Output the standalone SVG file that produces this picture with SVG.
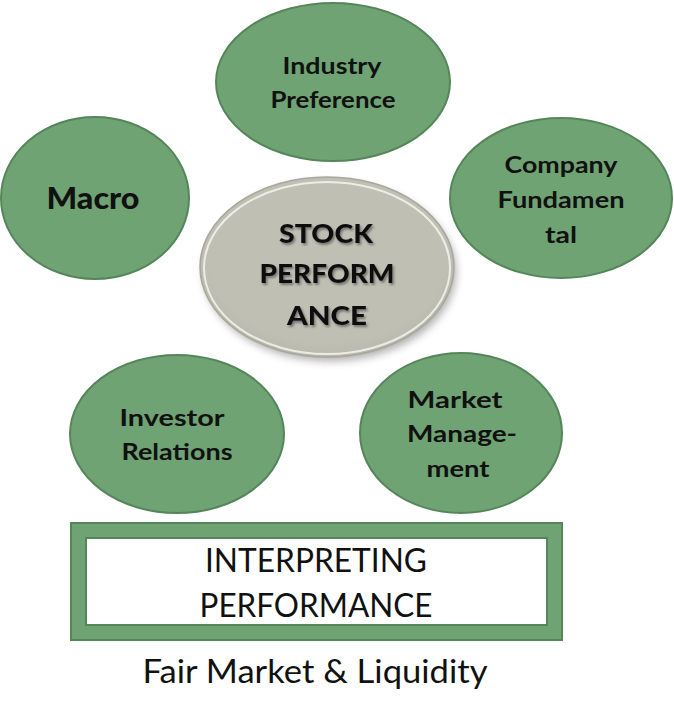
<svg xmlns="http://www.w3.org/2000/svg" width="674" height="716" viewBox="0 0 674 716">
<defs>
<style>
.g{fill:#6fa373;stroke:#55865a;stroke-width:2}
.t{font-family:Lato,"DejaVu Sans",sans-serif;font-weight:bold;font-size:23px;fill:#111;text-anchor:middle}
.c{font-family:Lato,"DejaVu Sans",sans-serif;font-weight:900;font-size:26px;fill:#111;text-anchor:middle}
.b{font-family:Lato,"Open Sans",sans-serif;font-size:33px;fill:#111;text-anchor:middle}
</style>
<filter id="sh" x="-20%" y="-20%" width="140%" height="150%">
<feGaussianBlur stdDeviation="4"/>
</filter>
<filter id="ts" x="-10%" y="-30%" width="120%" height="160%">
<feDropShadow dx="1.5" dy="2" stdDeviation="1" flood-color="#555" flood-opacity="0.7"/>
</filter>
<radialGradient id="bev" cx="50%" cy="45%" r="55%">
<stop offset="0.85" stop-color="#c0bfb4"/>
<stop offset="1" stop-color="#b9b8ad"/>
</radialGradient>
</defs>
<rect width="674" height="716" fill="#ffffff"/>
<g id="industry">
<ellipse class="g" cx="333" cy="82" rx="117" ry="79"/>
<text class="t" x="332" y="74" textLength="99" lengthAdjust="spacingAndGlyphs">Industry</text>
<text class="t" x="333" y="108" textLength="125" lengthAdjust="spacingAndGlyphs">Preference</text>
</g>
<g id="macro">
<ellipse class="g" cx="95" cy="198" rx="94" ry="81"/>
<text class="t" x="93" y="209" style="font-size:31px;font-weight:900" textLength="93" lengthAdjust="spacingAndGlyphs">Macro</text>
</g>
<g id="company">
<ellipse class="g" cx="561" cy="198" rx="111" ry="80"/>
<text class="t" x="561" y="173" textLength="113" lengthAdjust="spacingAndGlyphs">Company</text>
<text class="t" x="561" y="208" textLength="127" lengthAdjust="spacingAndGlyphs">Fundamen</text>
<text class="t" x="561" y="243" textLength="32" lengthAdjust="spacingAndGlyphs">tal</text>
</g>
<g id="stock">
<ellipse cx="330" cy="272" rx="126" ry="89" fill="#777" opacity="0.6" filter="url(#sh)"/>
<ellipse cx="327" cy="267" rx="127" ry="90" fill="url(#bev)" stroke="#a8a79b" stroke-width="1.5"/>
<ellipse cx="327" cy="268" rx="123" ry="86" fill="none" stroke="#f4f4ee" stroke-width="2" opacity="0.85"/>
<g filter="url(#ts)">
<text class="c" x="326" y="243" textLength="94" lengthAdjust="spacingAndGlyphs">STOCK</text>
<text class="c" x="327" y="283" textLength="135" lengthAdjust="spacingAndGlyphs">PERFORM</text>
<text class="c" x="327" y="325" textLength="80" lengthAdjust="spacingAndGlyphs">ANCE</text>
</g>
</g>
<g id="investor">
<ellipse class="g" cx="177" cy="434" rx="107" ry="79"/>
<text class="t" x="172" y="426" textLength="105" lengthAdjust="spacingAndGlyphs">Investor</text>
<text class="t" x="177" y="460" textLength="111" lengthAdjust="spacingAndGlyphs">Relations</text>
</g>
<g id="market">
<ellipse class="g" cx="461" cy="433" rx="101" ry="80"/>
<text class="t" x="455" y="408" textLength="95" lengthAdjust="spacingAndGlyphs">Market</text>
<text class="t" x="462" y="442" textLength="110" lengthAdjust="spacingAndGlyphs">Manage-</text>
<text class="t" x="458" y="477" textLength="63" lengthAdjust="spacingAndGlyphs">ment</text>
</g>
<g id="interpreting">
<rect x="71" y="523" width="491" height="117" fill="#6fa373" stroke="#55865a" stroke-width="2"/>
<rect x="86" y="538" width="461" height="87" fill="#ffffff" stroke="#55865a" stroke-width="2"/>
<text class="b" x="316" y="572" textLength="222" lengthAdjust="spacingAndGlyphs">INTERPRETING</text>
<text class="b" x="316" y="617" textLength="233" lengthAdjust="spacingAndGlyphs">PERFORMANCE</text>
</g>
<g id="footer">
<text class="b" x="315" y="683" textLength="345" lengthAdjust="spacingAndGlyphs">Fair Market &amp; Liquidity</text>
</g>
<g id="connectors"/>
</svg>
